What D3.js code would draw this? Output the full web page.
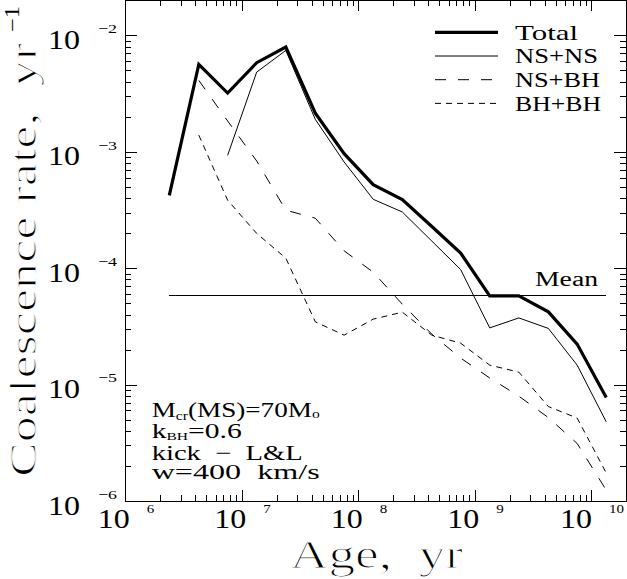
<!DOCTYPE html>
<html>
<head>
<meta charset="utf-8">
<script src="https://cdn.jsdelivr.net/npm/d3@7"></script>
<style>
  body { margin: 0; background: #fff; }
  svg { display: block; }
  text { font-family: "Liberation Serif", "DejaVu Serif", serif; fill: #000; white-space: pre; }
</style>
</head>
<body>
<svg id="chart" width="627" height="579"></svg>
<script>
// ---- data ----
const ages   = [2.4e6, 4.3e6, 7.6e6, 1.35e7, 2.4e7, 4.3e7, 7.6e7, 1.35e8, 2.4e8, 4.3e8, 7.6e8, 1.35e9, 2.4e9, 4.3e9, 7.6e9, 1.35e10];
const total  = [4.23e-4, 5.64e-3, 3.20e-3, 5.83e-3, 7.94e-3, 2.15e-3, 9.65e-4, 5.23e-4, 3.89e-4, 2.28e-4, 1.35e-4, 5.78e-5, 5.78e-5, 4.22e-5, 2.23e-5, 7.76e-6];
const nsns   = [null, null, 9.33e-4, 4.84e-3, 7.43e-3, 1.90e-3, 8.18e-4, 3.91e-4, 3.04e-4, 1.71e-4, 9.74e-5, 3.07e-5, 3.74e-5, 3.04e-5, 1.47e-5, 4.79e-6];
const nsbh   = [null, 4.11e-3, 1.84e-3, 8.34e-4, 3.15e-4, 2.69e-4, 1.41e-4, 9.24e-5, 4.91e-5, 2.71e-5, 1.69e-5, 1.14e-5, 7.96e-6, 5.21e-6, 3.12e-6, 1.24e-6];
const bhbh   = [null, 1.39e-3, 3.84e-4, 1.99e-4, 1.22e-4, 3.46e-5, 2.66e-5, 3.65e-5, 4.19e-5, 2.66e-5, 2.27e-5, 1.47e-5, 1.28e-5, 6.48e-6, 5.16e-6, 1.74e-6];
const meanRate = 5.86e-5;
const seriesNames = ["Total", "NS+NS", "NS+BH", "BH+BH"];
const xTickExps = [6, 7, 8, 9, 10];
const yTickExps = [-2, -3, -4, -5, -6];

// ---- styles ----
const seriesStyle = {
  "Total": { width: 3.2, dash: null },
  "NS+NS": { width: 1, dash: null },
  "NS+BH": { width: 1, dash: "11,12" },
  "BH+BH": { width: 1, dash: "6,5" }
};
const seriesData = { "Total": total, "NS+NS": nsns, "NS+BH": nsbh, "BH+BH": bhbh };

const svg = d3.select("#chart");
svg.append("rect").attr("width", 627).attr("height", 579).attr("fill", "#fff");

const L = 125, R = 626, T = 0.5, B = 501;
const x = d3.scaleLog().domain([1e6, Math.pow(10, 10.3)]).range([L, R]);
const y = d3.scaleLog().domain([1e-6, Math.pow(10, -1.7)]).range([B, T]);

const isMajor = v => Math.abs(Math.log10(v) - Math.round(Math.log10(v))) < 1e-9;
const xt = x.ticks().filter(v => v > 1e6 * 1.0001);
const yt = y.ticks().filter(v => v > 1e-6 * 1.0001);
const xMaj = xt.filter(isMajor), xMin = xt.filter(v => !isMajor(v));
const yMaj = yt.filter(isMajor), yMin = yt.filter(v => !isMajor(v));

function addAxis(gen, tx, ty, vals, size) {
  svg.append("g")
    .attr("transform", `translate(${tx},${ty})`)
    .attr("shape-rendering", "crispEdges")
    .call(gen.tickValues(vals).tickSize(size).tickSizeOuter(0).tickFormat(""))
    .call(g => g.select(".domain").remove())
    .call(g => g.selectAll("line").attr("stroke", "#000"));
}
const MAJ = 11, MIN = 6;
addAxis(d3.axisTop(x), 0, B, xMaj, MAJ);
addAxis(d3.axisTop(x), 0, B, xMin, MIN);
addAxis(d3.axisBottom(x), 0, 0, xMaj, MAJ);
addAxis(d3.axisBottom(x), 0, 0, xMin, MIN);
addAxis(d3.axisRight(y), L, 0, yMaj, MAJ + 1);
addAxis(d3.axisRight(y), L, 0, yMin, MIN);
addAxis(d3.axisLeft(y), R, 0, yMaj, MAJ + 1);
addAxis(d3.axisLeft(y), R, 0, yMin, MIN);

// frame
svg.append("rect")
  .attr("x", L).attr("y", T).attr("width", R - L).attr("height", B - T)
  .attr("fill", "none").attr("stroke", "#000").attr("stroke-width", 1)
  .attr("shape-rendering", "crispEdges");

// tick labels: x
xTickExps.forEach(e => {
  const tx = x(Math.pow(10, e));
  const expW = String(e).length * 7.5;
  const left = tx + 1 - (32 + 17 + expW) / 2;
  svg.append("text").attr("x", left).attr("y", 528).attr("font-size", 28)
    .attr("textLength", 32).attr("lengthAdjust", "spacingAndGlyphs").text("10");
  svg.append("text").attr("x", left + 49).attr("y", 512.7).attr("font-size", 13)
    .attr("textLength", expW).attr("lengthAdjust", "spacingAndGlyphs").text(String(e));
});
// tick labels: y
yTickExps.forEach(e => {
  const ty = y(Math.pow(10, e));
  svg.append("text").attr("x", 48).attr("y", ty + 13.5).attr("font-size", 28)
    .attr("textLength", 32).attr("lengthAdjust", "spacingAndGlyphs").text("10");
  svg.append("text").attr("x", 98).attr("y", ty - 2.3).attr("font-size", 13)
    .attr("textLength", 19).attr("lengthAdjust", "spacingAndGlyphs")
    .text("\u2212" + Math.abs(e));
});

// axis titles (thin white outline keeps the strokes light like the reference)
svg.append("text").attr("x", 290).attr("y", 568).attr("font-size", 40)
  .attr("textLength", 173).attr("lengthAdjust", "spacingAndGlyphs")
  .attr("stroke", "#fff").attr("stroke-width", 1.1)
  .text("Age,  yr");

svg.append("text").attr("transform", "translate(36,477) rotate(-90)").attr("font-size", 37)
  .attr("textLength", 434).attr("lengthAdjust", "spacingAndGlyphs")
  .attr("stroke", "#fff").attr("stroke-width", 1.1)
  .text("Coalescence rate,  yr");
svg.append("text").attr("transform", "translate(19,32) rotate(-90)").attr("font-size", 20)
  .attr("textLength", 26).attr("lengthAdjust", "spacingAndGlyphs")
  .text("\u22121");

// mean line
svg.append("line")
  .attr("x1", x(ages[0])).attr("x2", x(ages[ages.length - 1]))
  .attr("y1", y(meanRate)).attr("y2", y(meanRate))
  .attr("stroke", "#000").attr("stroke-width", 1).attr("shape-rendering", "crispEdges");
svg.append("text").attr("x", 535).attr("y", 286).attr("font-size", 20)
  .attr("textLength", 63).attr("lengthAdjust", "spacingAndGlyphs").text("Mean");

// series lines
const line = d3.line()
  .defined(d => d[1] != null)
  .x(d => x(d[0])).y(d => y(d[1]));
seriesNames.slice().reverse().forEach(name => {
  const vals = seriesData[name];
  const st = seriesStyle[name];
  svg.append("path")
    .datum(ages.map((a, i) => [a, vals[i]]))
    .attr("d", line)
    .attr("fill", "none")
    .attr("stroke", "#000")
    .attr("stroke-width", st.width)
    .attr("stroke-linejoin", "miter")
    .attr("stroke-dasharray", st.dash);
});

// legend
const legendLen = { "Total": 63, "NS+NS": 83, "NS+BH": 85, "BH+BH": 86 };
seriesNames.forEach((name, i) => {
  const ly = 32.3 + i * 23.7;
  const st = seriesStyle[name];
  svg.append("line").attr("x1", 435).attr("x2", 498).attr("y1", ly).attr("y2", ly)
    .attr("stroke", "#000").attr("stroke-width", st.width).attr("stroke-dasharray", st.dash);
  svg.append("text").attr("x", 515).attr("y", ly + 7.2).attr("font-size", 21)
    .attr("textLength", legendLen[name]).attr("lengthAdjust", "spacingAndGlyphs").text(name);
});

// annotation
const ann = svg.append("g").attr("font-size", 21);
const a1 = ann.append("text").attr("x", 151.7).attr("y", 417).attr("textLength", 168).attr("lengthAdjust", "spacingAndGlyphs");
a1.append("tspan").text("M");
a1.append("tspan").attr("font-size", 12).attr("dy", 2.5).text("cr");
a1.append("tspan").attr("dy", -2.5).text("(MS)=70M");
a1.append("tspan").attr("font-size", 12).attr("dy", 1).text("o");
const a2 = ann.append("text").attr("x", 151.7).attr("y", 438.3).attr("textLength", 90).attr("lengthAdjust", "spacingAndGlyphs");
a2.append("tspan").text("k");
a2.append("tspan").attr("font-size", 11).attr("dy", 2).text("BH");
a2.append("tspan").attr("dy", -2).text("=0.6");
ann.append("text").attr("x", 151.7).attr("y", 459.5).attr("textLength", 151).attr("lengthAdjust", "spacingAndGlyphs").text("kick  \u2212  L&L");
ann.append("text").attr("x", 151.7).attr("y", 479).attr("textLength", 168).attr("lengthAdjust", "spacingAndGlyphs").text("w=400  km/s");
</script>
</body>
</html>
